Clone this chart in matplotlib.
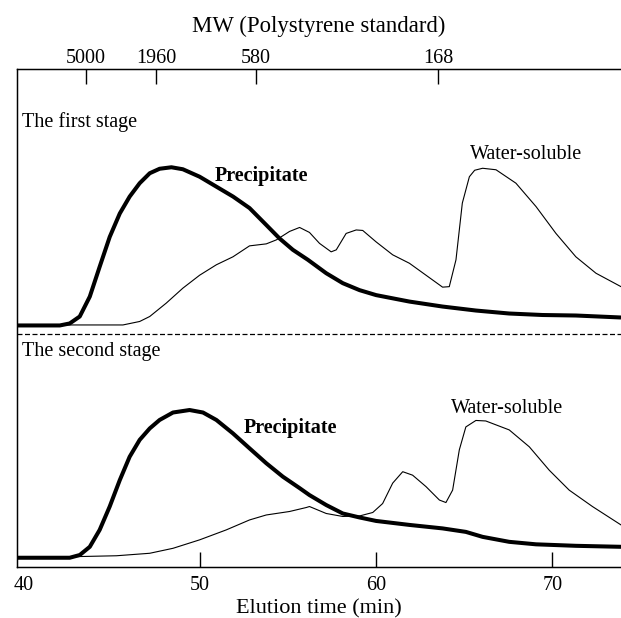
import matplotlib
matplotlib.use('Agg')
import matplotlib.pyplot as plt

plt.rcParams['font.family'] = ['Liberation Serif', 'DejaVu Serif']

# 第一阶段 沉淀物 (elution time, intensity)
t1_pre = [39.66, 42.07, 42.63, 43.2, 43.77, 44.33, 44.9, 45.47, 46.03, 46.6, 47.17, 47.73, 48.4,
          49.05, 50.0, 50.95, 51.9, 52.83, 53.78, 54.53, 55.29, 56.14, 57.18, 58.12, 59.07,
          60.01, 61.9, 63.78, 65.67, 67.56, 69.45, 71.34, 73.9]
y1_pre = [48.5, 48.5, 48.9, 50.3, 54.3, 60.3, 66.3, 71.0, 74.4, 77.1, 79.1, 80.0, 80.3,
          79.9, 78.4, 76.4, 74.4, 72.1, 68.7, 66.0, 63.7, 61.7, 59.0, 57.0, 55.6,
          54.6, 53.3, 52.3, 51.5, 50.9, 50.6, 50.5, 50.1]

# 第一阶段 水溶物
t1_ws = [39.66, 45.65, 46.6, 47.17, 48.11, 49.05, 50.0, 50.95, 51.89, 52.83, 53.78, 54.35, 55.1,
         55.67, 56.23, 56.8, 57.46, 57.75, 58.31, 58.88, 59.25, 60.01, 60.95, 61.9, 62.84,
         63.78, 64.16, 64.54, 64.9, 65.3, 65.6, 66.05, 66.81, 67.94, 69.08, 70.21, 71.34, 72.48, 73.9]
y1_ws = [48.6, 48.6, 49.3, 50.3, 53.0, 56.0, 58.6, 60.7, 62.3, 64.5, 64.9, 65.7, 67.4,
         68.2, 67.2, 65.0, 63.3, 63.7, 67.0, 67.7, 67.6, 65.3, 62.7, 61.0, 58.6,
         56.2, 56.3, 61.7, 73.1, 78.4, 79.7, 80.1, 79.8, 77.1, 72.4, 67.0, 62.3, 59.0, 56.3]

# 第二阶段 沉淀物
t2_pre = [39.66, 42.63, 43.2, 43.77, 44.33, 44.9, 45.47, 46.03, 46.6, 47.17, 47.73, 48.49, 49.43,
          50.19, 50.95, 51.89, 52.83, 53.78, 54.72, 55.67, 56.23, 57.18, 58.12, 59.07, 60.01,
          61.9, 63.78, 65.1, 66.05, 67.56, 69.08, 71.34, 73.9]
y2_pre = [1.8, 1.8, 2.35, 4.0, 7.4, 12.1, 17.4, 22.1, 25.5, 27.8, 29.5, 31.0, 31.5,
          31.0, 29.5, 26.8, 23.8, 20.8, 18.1, 15.8, 14.4, 12.4, 10.7, 9.9, 9.2,
          8.4, 7.7, 7.0, 6.0, 5.0, 4.5, 4.2, 4.0]

# 第二阶段 水溶物
t2_ws = [39.66, 42.63, 45.28, 47.17, 48.49, 50.0, 51.51, 52.83, 53.78, 55.1, 56.05, 56.23, 57.18,
         58.12, 59.07, 59.82, 60.38, 60.95, 61.52, 62.08, 62.84, 63.6, 63.97, 64.35, 64.73,
         65.1, 65.67, 66.23, 67.56, 68.7, 69.83, 70.96, 72.28, 73.9]
y2_ws = [1.9, 2.0, 2.2, 2.7, 3.7, 5.4, 7.4, 9.4, 10.4, 11.1, 11.9, 12.1, 10.7,
         10.1, 10.2, 10.9, 12.7, 16.8, 19.1, 18.4, 16.1, 13.4, 12.9, 15.4, 23.5,
         28.1, 29.4, 29.3, 27.5, 24.1, 19.4, 15.4, 12.1, 8.4]

# 上轴 分子量标定
mw_pos = [43.54, 47.55, 53.17, 63.54]
mw_labels = ['5000', '1960', '580', '168']

fig = plt.figure(figsize=(6.21, 6.18), dpi=100)
ax = fig.add_axes([0.0279, 0.083, 0.9721, 0.8049])

# 曲线
ax.plot(t1_pre, y1_pre, color='black', lw=2.9, solid_capstyle='butt', solid_joinstyle='round')
ax.plot(t1_ws, y1_ws, color='black', lw=0.8)
ax.plot(t2_pre, y2_pre, color='black', lw=2.9, solid_capstyle='butt', solid_joinstyle='round')
ax.plot(t2_ws, y2_ws, color='black', lw=0.8)

# 分隔虚线
ax.axhline(46.8, color='black', lw=0.9, ls=(0, (4, 2)))

ax.set_xlim(39.66, 73.9)
ax.set_ylim(0, 100)
ax.set_yticks([])
ax.spines['right'].set_visible(False)
for s in ['left', 'top', 'bottom']:
    ax.spines[s].set_linewidth(1.0)

# 40 只有标签 没有刻度线
ax.set_xticks([50, 60, 70])
ax.set_xticks([40], minor=True)
ax.set_xticklabels(['40'], minor=True)
ax.tick_params(axis='x', which='major', direction='in', length=11, width=1.0, pad=7, labelsize=14.5)
ax.tick_params(axis='x', which='minor', length=0, pad=7, labelsize=14.5)
ax.set_xlabel('Elution time (min)', fontsize=16, labelpad=2.5)

# 上轴
top = ax.twiny()
top.set_xlim(ax.get_xlim())
top.set_xticks(mw_pos)
top.set_xticklabels(mw_labels)
top.tick_params(axis='x', direction='in', length=11, width=1.0, pad=1, labelsize=14.5)
top.spines['right'].set_visible(False)
top.set_xlabel('MW (Polystyrene standard)', fontsize=16.4, labelpad=12)

# 文字标注
ax.text(39.92, 89.4, 'The first stage', fontsize=14.5, va='center')
ax.text(39.92, 43.2, 'The second stage', fontsize=14.5, va='center')
ax.text(50.85, 78.5, 'Precipitate', fontsize=14.5, fontweight='bold', va='center')
ax.text(52.49, 27.9, 'Precipitate', fontsize=14.5, fontweight='bold', va='center')
ax.text(65.35, 82.8, 'Water-soluble', fontsize=14.5, va='center')
ax.text(64.28, 31.9, 'Water-soluble', fontsize=14.5, va='center')

plt.savefig('out.png', dpi=100)
